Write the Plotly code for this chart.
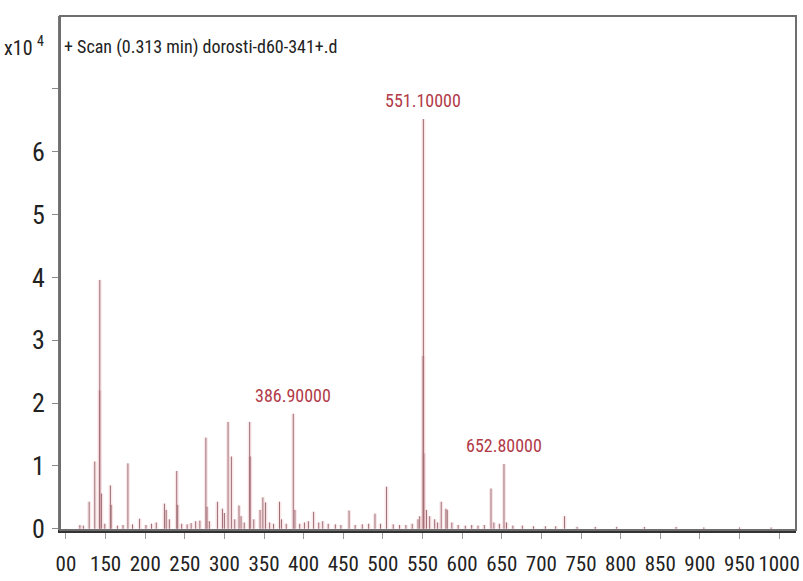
import plotly.graph_objects as go

# Mass spectrum, + Scan (0.313 min); intensities in units of 10^4 counts
mz = [117.6, 122.0, 129.3, 136.4, 142.5, 142.7, 144.8, 149.0, 156.1, 157.0,
      165.0, 172.0, 178.2, 184.0, 192.9, 201.0, 208.0, 214.0, 224.3, 226.5,
      230.5, 239.8, 241.0, 246.0, 253.0, 258.0, 263.7, 269.0, 276.6, 278.0,
      281.0, 291.2, 297.5, 300.0, 304.6, 308.8, 313.0, 318.4, 321.0, 325.0,
      331.8, 332.5, 337.0, 345.0, 348.5, 351.9, 357.0, 362.0, 369.5, 372.0,
      378.0, 386.9, 389.0, 395.0, 401.0, 406.0, 412.5, 419.0, 424.0, 431.0,
      440.0, 447.0, 457.3, 465.0, 474.0, 482.0, 490.0, 497.0, 504.6, 513.0,
      521.0, 529.0, 537.0, 544.3, 546.4, 550.8, 551.1, 551.6, 555.0, 559.0,
      565.3, 569.0, 573.6, 579.5, 581.2, 587.0, 595.0, 604.0, 612.0, 620.0,
      628.0, 636.4, 640.0, 647.0, 652.8, 656.0, 664.0, 676.0, 690.0, 705.0,
      718.0, 729.2, 745.0, 768.0, 795.0, 830.0, 870.0, 905.0, 950.0, 990.0]
intensity = [0.06, 0.05, 0.43, 1.07, 2.20, 3.96, 0.56, 0.08, 0.69, 0.38,
             0.05, 0.06, 1.04, 0.07, 0.16, 0.06, 0.08, 0.10, 0.40, 0.30,
             0.15, 0.92, 0.38, 0.08, 0.07, 0.09, 0.12, 0.13, 1.45, 0.35,
             0.12, 0.43, 0.32, 0.25, 1.70, 1.15, 0.15, 0.37, 0.20, 0.10,
             1.70, 1.15, 0.15, 0.30, 0.50, 0.42, 0.10, 0.08, 0.43, 0.15,
             0.08, 1.83, 0.30, 0.08, 0.10, 0.12, 0.27, 0.10, 0.12, 0.08,
             0.07, 0.06, 0.29, 0.06, 0.07, 0.08, 0.24, 0.08, 0.67, 0.07,
             0.06, 0.06, 0.08, 0.15, 0.20, 2.75, 6.52, 1.20, 0.30, 0.20,
             0.15, 0.10, 0.43, 0.32, 0.30, 0.10, 0.06, 0.05, 0.06, 0.05,
             0.06, 0.64, 0.10, 0.08, 1.03, 0.10, 0.05, 0.05, 0.04, 0.04,
             0.04, 0.20, 0.03, 0.03, 0.03, 0.03, 0.03, 0.02, 0.02, 0.02]

labelled_mz = [551.1, 386.9, 652.8]

x_ticks = [100, 150, 200, 250, 300, 350, 400, 450, 500, 550,
           600, 650, 700, 750, 800, 850, 900, 950, 1000]
x_tick_text = ["00", "150", "200", "250", "300", "350", "400", "450", "500", "550",
               "600", "650", "700", "750", "800", "850", "900", "950", "1000"]
y_ticks = [0, 1, 2, 3, 4, 5, 6, 7]
y_tick_text = ["0", "1", "2", "3", "4", "5", "6", ""]

FONT = "Roboto Condensed, Liberation Sans, sans-serif"
LABEL_RED = "#b23a48"
INK = "#222222"

W, H = 803, 581
L, R, T, B = 60, 3, 16, 51
pw, ph = W - L - R, H - T - B


def px_x(x):
    return (x - L) / pw


def px_y(y):
    return 1 - (y - T) / ph


# stick spectrum: one vertical segment per m/z
sx, sy = [], []
for m, h in zip(mz, intensity):
    sx += [m, m, None]
    sy += [0, h, None]

fig = go.Figure()
fig.add_trace(go.Scatter(x=sx, y=sy, mode="lines",
                         line=dict(color="rgba(235,165,176,0.28)", width=4),
                         hoverinfo="skip", showlegend=False))
fig.add_trace(go.Scatter(x=sx, y=sy, mode="lines",
                         line=dict(color="rgb(158,112,118)", width=1),
                         hoverinfo="skip", showlegend=False))

for m in labelled_mz:
    h = intensity[mz.index(m)]
    fig.add_annotation(x=m, y=h, xref="x", yref="y", text=f"{m:.5f}",
                       showarrow=False, yanchor="bottom", yshift=6,
                       font=dict(family=FONT, size=18, color=LABEL_RED))

fig.add_annotation(x=px_x(62), y=px_y(47), xref="paper", yref="paper",
                   text="+ Scan (0.313 min) dorosti-d60-341+.d",
                   showarrow=False, xanchor="left", yanchor="middle",
                   font=dict(family=FONT, size=18, color=INK))
fig.add_annotation(x=px_x(2), y=px_y(48), xref="paper", yref="paper", text="x10",
                   showarrow=False, xanchor="left", yanchor="middle",
                   font=dict(family=FONT, size=20, color=INK))
fig.add_annotation(x=px_x(35), y=px_y(41), xref="paper", yref="paper", text="4",
                   showarrow=False, xanchor="left", yanchor="middle",
                   font=dict(family=FONT, size=14, color=INK))

fig.add_shape(type="rect", xref="paper", yref="paper", x0=0, x1=1, y0=0, y1=1,
              line=dict(color="#6e6e6e", width=2), layer="above")

fig.update_xaxes(range=[92.5, 1021.3], tickvals=x_ticks, ticktext=x_tick_text,
                 ticks="outside", ticklen=6, tickcolor="#9a9a9a", tickwidth=1,
                 showgrid=False, zeroline=False, showline=True,
                 linecolor="#333333", linewidth=3, ticklabelstandoff=7,
                 ticklabeloverflow="allow",
                 tickfont=dict(family=FONT, size=21, color=INK))
fig.update_yaxes(range=[-0.02, 8.16], tickvals=y_ticks, ticktext=y_tick_text,
                 ticks="outside", ticklen=6, tickcolor="#8a8a8a", tickwidth=1,
                 showgrid=False, zeroline=False, showline=True,
                 linecolor="#777777", linewidth=2, ticklabelstandoff=2,
                 tickfont=dict(family=FONT, size=26, color=INK))

fig.update_layout(width=W, height=H, margin=dict(l=L, r=R, t=T, b=B),
                  paper_bgcolor="white", plot_bgcolor="white", showlegend=False)

fig.write_html("out.html")
